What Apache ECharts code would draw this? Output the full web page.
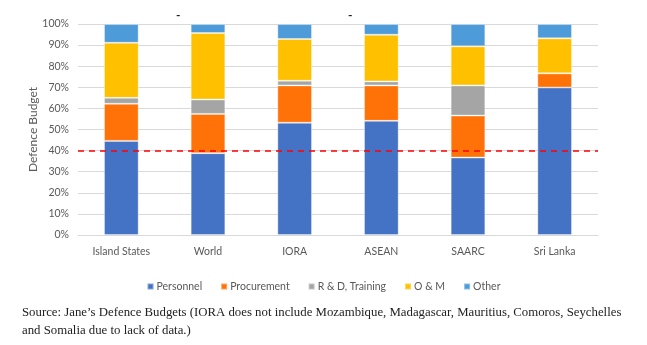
<!DOCTYPE html>
<html>
<head>
<meta charset="utf-8">
<script src="https://cdn.jsdelivr.net/npm/echarts@6/dist/echarts.min.js"></script>
<style>
  html, body { margin: 0; padding: 0; background: #fff; }
  #chart { width: 647px; height: 345px; }
</style>
</head>
<body>
<div id="chart"></div>
<script>
// Share of defence budget by spending category (%)
const categories = ['Island States', 'World', 'IORA', 'ASEAN', 'SAARC', 'Sri Lanka'];
const personnel   = [44.6, 38.8, 53.2, 54.1, 36.7, 69.9];
const procurement = [17.6, 18.6, 17.7, 16.8, 19.9, 6.7];
const rdTraining  = [2.8, 6.8, 2.2, 1.9, 14.3, 0];
const oAndM       = [26.1, 31.5, 19.8, 22.1, 18.5, 16.6];
const other       = [8.9, 4.3, 7.1, 5.1, 10.6, 6.8];
const yTicks = [0, 10, 20, 30, 40, 50, 60, 70, 80, 90, 100];
const referenceLevel = 40;

const seriesNames = ['Personnel', 'Procurement', 'R & D, Training', 'O & M', 'Other'];
const seriesData = [personnel, procurement, rdTraining, oAndM, other];
const colors = ['#4472C4', '#FF7208', '#A5A5A5', '#FFC000', '#4E9BD9'];

const uiFont = 'Lato';
const textGrey = '#595959';

const series = seriesNames.map((name, i) => ({
  name,
  type: 'bar',
  stack: 'budget',
  barWidth: '40%',
  data: seriesData[i],
  itemStyle: { color: colors[i], borderColor: 'rgba(255,255,255,0.35)', borderWidth: 1 }
}));

series[0].markLine = {
  silent: true,
  symbol: 'none',
  label: { show: false },
  lineStyle: { color: '#FF0000', type: [6, 5], width: 1.5 },
  data: [{ yAxis: referenceLevel }]
};

const chart = echarts.init(document.getElementById('chart'), null, { renderer: 'canvas' });
chart.setOption({
  animation: false,
  color: colors,
  grid: { left: 78, right: 49, top: 24, bottom: 110 },
  legend: {
    data: seriesNames,
    top: 276,
    left: 'center',
    itemWidth: 6,
    itemHeight: 6,
    itemGap: 18,
    icon: 'rect',
    textStyle: { fontFamily: uiFont, fontSize: 10.5, color: textGrey, padding: [0, 0, 0, -2] }
  },
  xAxis: {
    type: 'category',
    data: categories,
    axisLine: { lineStyle: { color: '#D9D9D9' } },
    axisTick: { show: false },
    axisLabel: { fontFamily: uiFont, fontSize: 10.5, color: textGrey, margin: 11 }
  },
  yAxis: {
    type: 'value',
    min: yTicks[0],
    max: yTicks[yTicks.length - 1],
    interval: 10,
    name: 'Defence Budget',
    nameLocation: 'middle',
    nameGap: 39,
    nameMoveOverlap: false,
    nameTextStyle: { fontFamily: uiFont, fontSize: 12, color: textGrey },
    axisLabel: { formatter: '{value}%', fontFamily: uiFont, fontSize: 10.5, color: textGrey, margin: 9 },
    splitLine: { lineStyle: { color: '#D9D9D9' } },
    axisLine: { show: false },
    axisTick: { show: false }
  },
  series,
  graphic: [
    { type: 'text', left: 176, top: 9, style: { text: '-', fontSize: 12, fontWeight: 'bold', fill: '#222', fontFamily: uiFont } },
    { type: 'text', left: 348, top: 9, style: { text: '-', fontSize: 12, fontWeight: 'bold', fill: '#222', fontFamily: uiFont } },
    {
      type: 'text', left: 22, top: 304,
      style: {
        text: 'Source: Jane\u2019s Defence Budgets (IORA does not include Mozambique, Madagascar, Mauritius, Comoros, Seychelles\nand Somalia due to lack of data.)',
        fontFamily: 'Liberation Serif', fontSize: 12.8, lineHeight: 18, fill: '#222'
      }
    }
  ]
});
</script>
</body>
</html>
